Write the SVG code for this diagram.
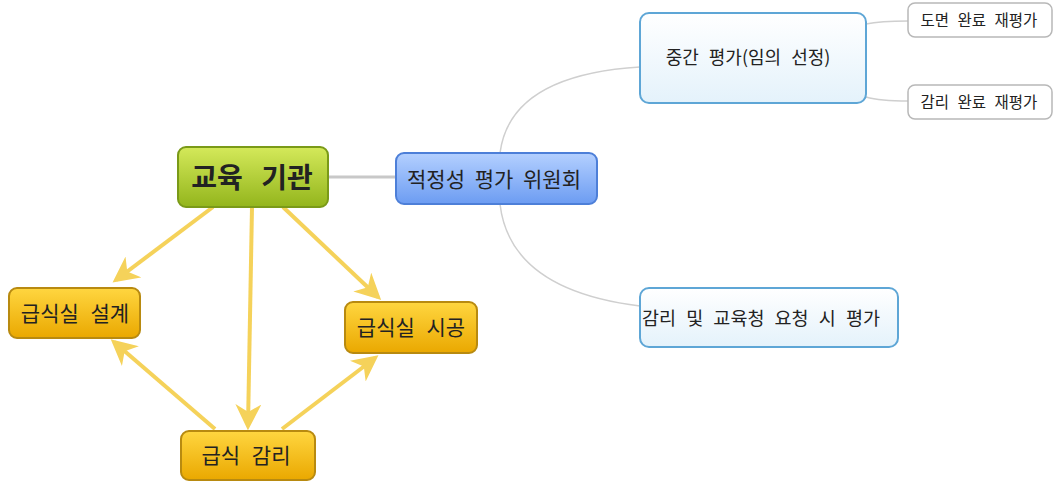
<svg xmlns="http://www.w3.org/2000/svg" width="1056" height="482" viewBox="0 0 1056 482">
<defs>
<linearGradient id="gGreen" x1="0" y1="0" x2="0" y2="1"><stop offset="0" stop-color="#d4e95a"/><stop offset="1" stop-color="#93b51c"/></linearGradient>
<linearGradient id="gBlue" x1="0" y1="0" x2="0" y2="1"><stop offset="0" stop-color="#b4d0ff"/><stop offset="1" stop-color="#6c9cf2"/></linearGradient>
<linearGradient id="gOrange" x1="0" y1="0" x2="0" y2="1"><stop offset="0" stop-color="#ffd640"/><stop offset="1" stop-color="#eaa800"/></linearGradient>
<linearGradient id="gLight" x1="0" y1="0" x2="0" y2="1"><stop offset="0" stop-color="#ffffff"/><stop offset="1" stop-color="#e4f2fb"/></linearGradient>
<marker id="arr" viewBox="0 0 12 12" refX="10" refY="6" markerWidth="6.5" markerHeight="6.5" orient="auto" markerUnits="strokeWidth">
<path d="M0,0 L12,6 L0,12 L3.5,6 Z" fill="#f5d25a"/>
</marker>
<style>
text{font-family:"Noto Sans CJK KR","Noto Sans",sans-serif;text-anchor:middle;dominant-baseline:central;fill:#222}
.yl{fill:none;stroke:#f5d25a;stroke-width:4;marker-end:url(#arr)}
.gl{fill:none;stroke:#cfcfcf;stroke-width:1.5}
.or{fill:url(#gOrange);stroke:#b88a10;stroke-width:2}
.lb{fill:url(#gLight);stroke:#5ea6d6;stroke-width:2}
.gb{fill:#fff;stroke:#b8b8b8;stroke-width:1.5}
</style>
</defs>
<g id="connectors">
<line x1="328" y1="177" x2="396" y2="177" stroke="#c8c8c8" stroke-width="3"/>
<path class="gl" d="M500,153 Q510,75 640,67"/>
<path class="gl" d="M500,204 Q510,290 640,306"/>
<path class="gl" d="M866,24 Q880,21 908,21"/>
<path class="gl" d="M866,97 Q880,101 908,101"/>
<line class="yl" x1="213" y1="207" x2="116" y2="280"/>
<line class="yl" x1="252" y1="207" x2="248" y2="426"/>
<line class="yl" x1="283" y1="207" x2="378" y2="297"/>
<line class="yl" x1="215" y1="429" x2="114" y2="342"/>
<line class="yl" x1="282" y1="429" x2="375" y2="358"/>
</g>
<g id="n-edu">
<rect x="178" y="147" width="150" height="60" rx="8" fill="url(#gGreen)" stroke="#7a9a18" stroke-width="2"/>
<text x="252" y="176" font-size="28" font-weight="bold" word-spacing="12">교육 기관</text>
</g>
<g id="n-committee">
<rect x="396" y="153" width="201" height="51" rx="8" fill="url(#gBlue)" stroke="#4d7fd8" stroke-width="2"/>
<text x="494" y="178" font-size="21" word-spacing="5">적정성 평가 위원회</text>
</g>
<g id="n-mid">
<rect x="640" y="13" width="226" height="90" rx="9" class="lb"/>
<text x="748" y="56" font-size="18" word-spacing="6">중간 평가(임의 선정)</text>
</g>
<g id="n-drawing">
<rect x="908" y="3" width="144" height="34" rx="7" class="gb"/>
<text x="979" y="19" font-size="15.5" word-spacing="5">도면 완료 재평가</text>
</g>
<g id="n-supcomp">
<rect x="908" y="85" width="144" height="34" rx="7" class="gb"/>
<text x="979" y="101" font-size="15.5" word-spacing="5">감리 완료 재평가</text>
</g>
<g id="n-request">
<rect x="640" y="288" width="258" height="59" rx="9" class="lb"/>
<text x="761" y="317" font-size="18.5" word-spacing="6">감리 및 교육청 요청 시 평가</text>
</g>
<g id="n-design">
<rect x="9" y="288" width="131" height="50" rx="8" class="or"/>
<text x="75" y="312" font-size="21" word-spacing="7">급식실 설계</text>
</g>
<g id="n-build">
<rect x="345" y="302" width="132" height="51" rx="8" class="or"/>
<text x="411" y="326" font-size="21" word-spacing="7">급식실 시공</text>
</g>
<g id="n-supervise">
<rect x="181" y="431" width="134" height="49" rx="8" class="or"/>
<text x="246" y="454" font-size="21" word-spacing="7">급식 감리</text>
</g>
</svg>
